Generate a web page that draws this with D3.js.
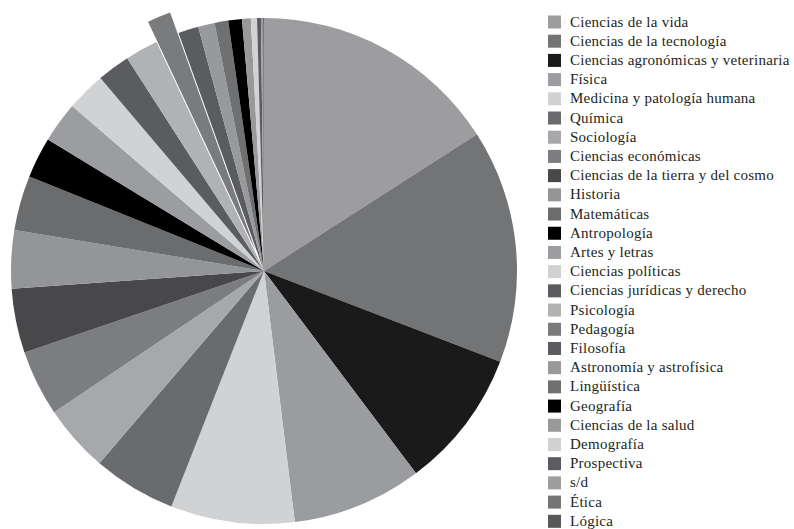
<!DOCTYPE html>
<html lang="es">
<head>
    <meta charset="UTF-8">
    <title>Disciplinas</title>
    <script src="https://d3js.org/d3.v7.min.js"></script>
    <style>
        body {
            margin: 0;
            padding: 0;
            background-color: #ffffff;
        }
        svg {
            display: block;
        }
        .legend text {
            font-family: "Liberation Serif", "DejaVu Serif", serif;
            font-size: 15px;
            letter-spacing: 0.25px;
            fill: #231f20;
        }
    </style>
</head>
<body>
    <svg id="chart"></svg>

    <script>
        // datos (porcentaje aproximado)
        const disciplinas = [
            "Ciencias de la vida", "Ciencias de la tecnología", "Ciencias agronómicas y veterinaria",
            "Física", "Medicina y patología humana", "Química", "Sociología", "Ciencias económicas",
            "Ciencias de la tierra y del cosmo", "Historia", "Matemáticas", "Antropología",
            "Artes y letras", "Ciencias políticas", "Ciencias jurídicas y derecho", "Psicología",
            "Pedagogía", "Filosofía", "Astronomía y astrofísica", "Lingüística", "Geografía",
            "Ciencias de la salud", "Demografía", "Prospectiva", "s/d", "Ética", "Lógica"
        ];
        const valores = [
            15.9, 14.9, 8.9, 8.3, 7.9, 5.3, 4.3, 4.2, 4.1, 3.7, 3.5, 2.6, 2.6,
            2.5, 2.1, 2.1, 1.5, 1.3, 1.05, 0.87, 0.87, 0.56, 0.39, 0.25, 0.08, 0.06, 0.05
        ];
        const grises = [
            "#9d9d9f", "#737476", "#1a1a1a", "#9a9c9f", "#d1d2d4", "#6a6b6e", "#a7a8ab",
            "#7c7d80", "#48484a", "#949597", "#6b6c6e", "#000000", "#9c9da0", "#d1d2d4",
            "#5b5c5f", "#b1b2b4", "#7a7b7d", "#5b5c5f", "#98999b", "#6f7072", "#000000",
            "#98999b", "#d1d2d4", "#5b5c5f", "#9d9ea0", "#747577", "#58595b"
        ];
        const destacado = "Pedagogía";

        const width = 794, height = 529;
        const cx = 264, cy = 271, radius = 253;

        const svg = d3.select("#chart").attr("width", width).attr("height", height);

        const data = disciplinas.map((d, i) => ({ nombre: d, valor: valores[i], color: grises[i] }));

        const pie = d3.pie().sort(null).value(d => d.valor);
        const arc = d3.arc().innerRadius(0).outerRadius(radius);

        const g = svg.append("g").attr("transform", `translate(${cx}, ${cy})`);

        g.selectAll("path")
            .data(pie(data))
            .enter()
            .append("path")
            .attr("d", arc)
            .attr("fill", d => d.data.color)
            .attr("transform", d => {
                if (d.data.nombre !== destacado) return null;
                const a = (d.startAngle + d.endAngle) / 2;
                const off = 22;
                return `translate(${off * Math.sin(a)}, ${-off * Math.cos(a)})`;
            });

        // leyenda
        const y = d3.scalePoint()
            .domain(disciplinas)
            .range([22, 521.3]);

        const legend = svg.append("g").attr("class", "legend");
        const item = legend.selectAll("g")
            .data(data)
            .enter()
            .append("g")
            .attr("transform", d => `translate(548, ${y(d.nombre)})`);

        item.append("rect")
            .attr("x", 0)
            .attr("y", -6.5)
            .attr("width", 13)
            .attr("height", 13)
            .attr("fill", d => d.color);

        item.append("text")
            .attr("x", 22)
            .attr("y", 4.5)
            .text(d => d.nombre);
    </script>
</body>
</html>
